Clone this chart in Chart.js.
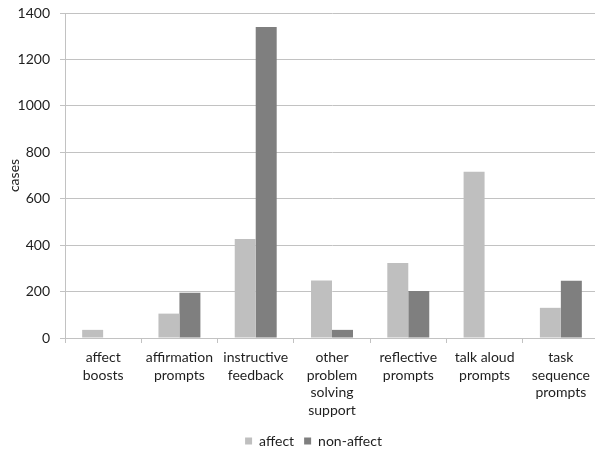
<!DOCTYPE html>
<html>
<head>
<meta charset="utf-8">
<script src="https://cdn.jsdelivr.net/npm/chart.js@4/dist/chart.umd.min.js"></script>
<style>
  html, body { margin: 0; padding: 0; background: #fff; overflow: hidden; }
  #wrap { width: 595px; height: 452px; overflow: hidden; }
  canvas { display: block; }
</style>
</head>
<body>
<div id="wrap"><canvas id="c" width="600" height="452"></canvas></div>
<script>
// Support types, one entry per category (multi-line labels)
const categories = [
  ['affect', 'boosts'],
  ['affirmation', 'prompts'],
  ['instructive', 'feedback'],
  ['other', 'problem', 'solving', 'support'],
  ['reflective', 'prompts'],
  ['talk aloud', 'prompts'],
  ['task', 'sequence', 'prompts']
];
// Case counts per support type
const affectCases    = [35, 105, 427, 248, 323, 716, 130];
const nonAffectCases = [0, 195, 1340, 35, 202, 0, 247];
const seriesNames = ['affect', 'non-affect'];
const yTicks = [0, 200, 400, 600, 800, 1000, 1200, 1400];

const font = { family: 'Lato, "Open Sans", sans-serif', size: 14 };
const gridGray = '#c2c2c2';
const textColor = '#1e1e1e';

// Nudge the legend a little to the right of the canvas centre
const legendShift = {
  id: 'legendShift',
  afterLayout(chart) {
    const lg = chart.legend;
    if (lg) { lg.left += 14; lg.right += 14; }
  }
};

new Chart(document.getElementById('c'), {
  type: 'bar',
  data: {
    labels: categories,
    datasets: [
      { label: seriesNames[0], data: affectCases, backgroundColor: '#bfbfbf',
        categoryPercentage: 0.55, barPercentage: 1.0 },
      { label: seriesNames[1], data: nonAffectCases, backgroundColor: '#7f7f7f',
        categoryPercentage: 0.55, barPercentage: 1.0 }
    ]
  },
  plugins: [legendShift],
  options: {
    responsive: false,
    animation: false,
    devicePixelRatio: 1,
    events: [],
    layout: { padding: { top: 13, right: 1, bottom: -6, left: 0 } },
    plugins: {
      tooltip: { enabled: false },
      legend: {
        position: 'bottom',
        labels: {
          font: font, color: textColor,
          boxWidth: 7, boxHeight: 7, padding: 10
        }
      }
    },
    scales: {
      x: {
        offset: true,
        grid: { display: true, offset: true, drawOnChartArea: false, drawTicks: true,
                tickLength: 5, color: gridGray },
        border: { display: true, color: gridGray },
        ticks: { font: { ...font, lineHeight: 1.25 }, color: textColor, padding: 6,
                 maxRotation: 0, autoSkip: false },
        afterFit(scale) { scale.height = 86; }
      },
      y: {
        min: 0, max: 1400,
        afterBuildTicks(scale) { scale.ticks = yTicks.map(v => ({ value: v })); },
        grid: { color: gridGray, drawTicks: true, tickLength: 5 },
        border: { display: true, color: gridGray },
        ticks: { font: font, color: textColor, padding: 10,
                 callback: v => String(v) },
        title: { display: true, text: 'cases', font: font, color: textColor,
                 padding: { top: 6, bottom: 0 } },
        afterFit(scale) {
          scale.width = 65;
          scale.paddingTop = 0;
          scale.paddingBottom = 0;
        }
      }
    }
  }
});
</script>
</body>
</html>
